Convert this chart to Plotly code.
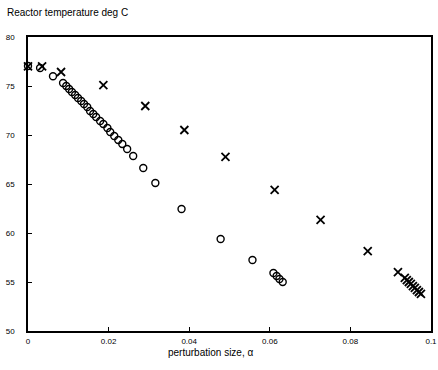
import plotly.graph_objects as go

# circles series (perturbation size, temperature)
circle_x = [0.0, 0.003, 0.0062, 0.0087, 0.0095, 0.0102, 0.0109, 0.0117, 0.0124, 0.0132,
            0.0139, 0.0147, 0.0154, 0.0162, 0.0169, 0.0179, 0.0187, 0.0197, 0.0204,
            0.0214, 0.0224, 0.0234, 0.0246, 0.0261, 0.0286, 0.0316, 0.0381, 0.0478,
            0.0557, 0.0609, 0.0617, 0.0624, 0.0632]
circle_y = [77.04, 76.84, 76.0, 75.31, 75.0, 74.69, 74.39, 74.08, 73.78, 73.47,
            73.16, 72.86, 72.45, 72.14, 71.84, 71.43, 71.12, 70.71, 70.31,
            69.90, 69.49, 69.08, 68.57, 67.86, 66.63, 65.1, 62.45, 59.39,
            57.24, 55.92, 55.61, 55.31, 55.0]

# crosses series
cross_x = [0.0, 0.0035, 0.0082, 0.0187, 0.0291, 0.0388, 0.049, 0.0612, 0.0726, 0.0843,
           0.0918, 0.0935, 0.0940, 0.0945, 0.0950, 0.0955, 0.0960, 0.0965, 0.0970, 0.0975]
cross_y = [77.0, 77.0, 76.43, 75.1, 72.96, 70.51, 67.76, 64.39, 61.33, 58.16,
           56.0, 55.41, 55.2, 55.0, 54.8, 54.59, 54.39, 54.18, 53.98, 53.78]

x_ticks = [0, 0.02, 0.04, 0.06, 0.08, 0.1]
x_tick_labels = ["0", "0.02", "0.04", "0.06", "0.08", "0.1"]
y_ticks = [50, 55, 60, 65, 70, 75, 80]
y_tick_labels = ["50", "55", "60", "65", "70", "75", "80"]

L, R, T, B = 28, 7, 37, 39
PW, PH = 438 - L - R, 370 - T - B

fig = go.Figure()
fig.add_trace(go.Scatter(
    x=circle_x, y=circle_y, mode="markers",
    marker=dict(symbol="circle-open", size=7, color="black", line=dict(width=1.4)),
    showlegend=False, cliponaxis=False))
fig.add_trace(go.Scatter(
    x=cross_x, y=cross_y, mode="markers",
    marker=dict(symbol="x-thin-open", size=8, color="black", line=dict(width=1.8, color="black")),
    showlegend=False, cliponaxis=False))

font = dict(family="Liberation Sans, Arial, sans-serif", size=8, color="black")
label_font = dict(family="Liberation Sans, Arial, sans-serif", size=10, color="black")

fig.update_layout(
    width=438, height=370,
    margin=dict(l=L, r=R, t=T, b=B),
    paper_bgcolor="white", plot_bgcolor="white",
    font=font,
    xaxis=dict(range=[0, 0.1], tickvals=x_ticks, ticktext=x_tick_labels,
               showgrid=False, zeroline=False, showline=True, linecolor="black",
               linewidth=1.5, mirror=True, ticks="inside", ticklen=4,
               tickcolor="black", tickfont=font, automargin=False,
               ticklabelstandoff=2),
    yaxis=dict(range=[50, 80], tickvals=y_ticks, ticktext=y_tick_labels,
               showgrid=False, zeroline=False, showline=True, linecolor="black",
               linewidth=1.5, mirror=True, ticks="inside", ticklen=4,
               tickcolor="black", tickfont=font, automargin=False,
               ticklabelstandoff=10),
    annotations=[
        dict(text="Reactor temperature deg C", xref="paper", yref="paper",
             x=-23 / PW, y=1 + 25 / PH, xanchor="left", yanchor="middle",
             showarrow=False, font=label_font),
        dict(text="perturbation size, α", xref="paper", yref="paper",
             x=(210 - L) / PW, y=-21 / PH, xanchor="center", yanchor="middle",
             showarrow=False, font=label_font),
    ],
)

fig.write_html("out.html", config={"displayModeBar": False},
               post_script="document.body.style.margin='0';")
